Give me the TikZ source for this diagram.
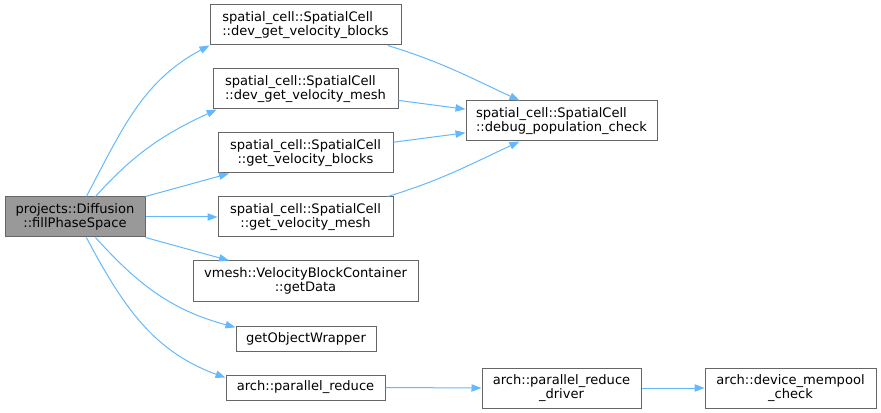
\documentclass[tikz,border=0pt]{standalone}
\usepackage{fontspec}
\setmainfont{DejaVu Sans}
\usetikzlibrary{arrows.meta}

\definecolor{edgeblue}{HTML}{63B8FF}
\definecolor{boxgray}{HTML}{666666}
\definecolor{rootfill}{HTML}{999999}

\begin{document}
\begin{tikzpicture}[x=0.75pt,y=-0.75pt,
  fn/.style={draw=boxgray,line width=0.75pt,fill=white,inner sep=0pt,
    font=\fontsize{9.8}{10.4}\selectfont,align=center,minimum height=30pt},
  fnl/.style={fn,align=left},
  short/.style={fn,minimum height=18.75pt},
  root/.style={fn,fill=rootfill},
  call/.style={edgeblue,line width=0.75pt,-{Triangle[length=7.5pt,width=5.5pt]}}]
\useasboundingbox (0,0) rectangle (881,413);

% caller
\node[root,minimum width=105pt] (fill) at (75,217) {projects::Diffusion\\::fillPhaseSpace};

% callees
\node[fnl,minimum width=143.25pt] (devblocks) at (305.5,25) {spatial\_cell::SpatialCell\\::dev\_get\_velocity\_blocks};
\node[fnl,minimum width=138.75pt] (devmesh) at (305.5,89) {spatial\_cell::SpatialCell\\::dev\_get\_velocity\_mesh};
\node[fn,minimum width=131.25pt] (getblocks) at (305.5,153) {spatial\_cell::SpatialCell\\::get\_velocity\_blocks};
\node[fn,minimum width=131.25pt] (getmesh) at (305.5,217) {spatial\_cell::SpatialCell\\::get\_velocity\_mesh};
\node[fn,minimum width=168.75pt] (getdata) at (305.5,281) {vmesh::VelocityBlockContainer\\::getData};
\node[short,minimum width=105pt] (wrapper) at (306,338.5) {getObjectWrapper};
\node[short,minimum width=119.25pt] (preduce) at (305.5,387.5) {arch::parallel\_reduce};

\node[fnl,minimum width=143.25pt] (debug) at (561.5,121) {spatial\_cell::SpatialCell\\::debug\_population\_check};
\node[fn,minimum width=119.25pt] (driver) at (561.5,388) {arch::parallel\_reduce\\\_driver};
\node[fn,minimum width=128.25pt] (mempool) at (790.5,388) {arch::device\_mempool\\\_check};

% calls from fillPhaseSpace
\draw[call] (fill.61) to[out=62,in=208] (devblocks.192);
\draw[call] (fill.45) to[out=48,in=205] (devmesh.193);
\draw[call] (fill.north east) -- (getblocks.195);
\draw[call] (fill.east) -- (getmesh.west);
\draw[call] (fill.south east) -- (getdata.165);
\draw[call] (fill.-45) to[out=-48,in=165] (wrapper.171);
\draw[call] (fill.-61) to[out=-62,in=160] (preduce.173);

% second level
\draw[call] (devblocks.-14.5) to[out=-17,in=155] (debug.154);
\draw[call] (devmesh.-7) -- (debug.173);
\draw[call] (getblocks.7) -- (debug.187);
\draw[call] (getmesh.14.5) to[out=17,in=205] (debug.206);
\draw[call] (preduce.east) -- (driver.west);
\draw[call] (driver.east) -- (mempool.west);
\end{tikzpicture}
\end{document}
